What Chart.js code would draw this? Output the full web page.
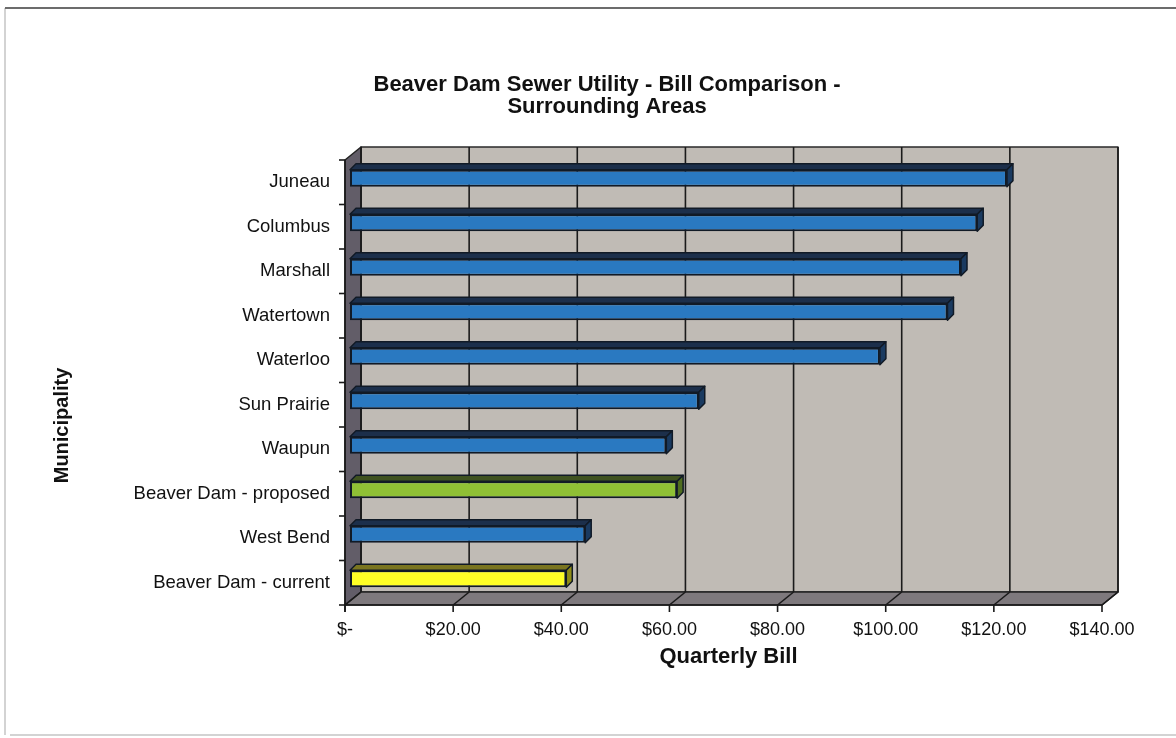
<!DOCTYPE html>
<html lang="en">
<head>
<meta charset="UTF-8">
<title>Beaver Dam Sewer Utility - Bill Comparison</title>
<script src="https://cdn.jsdelivr.net/npm/chart.js"></script>
<style>
  html, body { margin: 0; padding: 0; background: #fff; }
  #wrap { width: 1176px; height: 738px; }
</style>
</head>
<body>
<div id="wrap"><canvas id="billChart" width="1176" height="738"></canvas></div>
<script>
// values (top to bottom)
const municipalities = ['Juneau', 'Columbus', 'Marshall', 'Watertown', 'Waterloo',
  'Sun Prairie', 'Waupun', 'Beaver Dam - proposed', 'West Bend', 'Beaver Dam - current'];
const quarterlyBill = [121.5, 116, 113, 110.5, 98, 64.5, 58.5, 60.5, 43.5, 40];
const tickLabels = ['$-', '$20.00', '$40.00', '$60.00', '$80.00', '$100.00', '$120.00', '$140.00'];
const chartTitle = ['Beaver Dam Sewer Utility - Bill Comparison -', 'Surrounding Areas'];

// colours: front face, top face, end face
const BLUE = ['#2a79c1', '#1c2f4b', '#1a3a60'];
const GREEN = ['#8fc035', '#3f5220', '#4f6d1f'];
const YELLOW = ['#ffff26', '#7a7520', '#8f8c16'];
const barStyles = [BLUE, BLUE, BLUE, BLUE, BLUE, BLUE, BLUE, GREEN, BLUE, YELLOW];

// 3D offsets relative to the bar plane
const front = { x: -5, y: 4 };
const back = { x: 11, y: -9 };
const depth = { x: 6, y: -6 };

const FONT = '"Liberation Sans", Arial, sans-serif';

function poly(ctx, pts, fill, stroke, lw) {
  ctx.beginPath();
  ctx.moveTo(pts[0][0], pts[0][1]);
  for (let i = 1; i < pts.length; i++) ctx.lineTo(pts[i][0], pts[i][1]);
  ctx.closePath();
  if (fill) { ctx.fillStyle = fill; ctx.fill(); }
  if (stroke) { ctx.strokeStyle = stroke; ctx.lineWidth = lw; ctx.stroke(); }
}

function seg(ctx, x1, y1, x2, y2) {
  ctx.beginPath();
  ctx.moveTo(x1, y1);
  ctx.lineTo(x2, y2);
  ctx.stroke();
}

const fake3d = {
  id: 'fake3d',
  beforeDraw(chart) {
    const ctx = chart.ctx;
    const w = chart.width, h = chart.height;
    ctx.save();
    ctx.fillStyle = '#fff';
    ctx.fillRect(0, 0, w, h);
    // cadre de la feuille
    ctx.strokeStyle = '#c4c4c4';
    ctx.lineWidth = 1.5;
    seg(ctx, 5, 8, 5, h - 3);
    seg(ctx, 10, h - 3, w, h - 3);
    ctx.strokeStyle = '#6c6c6c';
    ctx.lineWidth = 2;
    seg(ctx, 5, 8, w, 8);
    ctx.restore();
  },
  beforeDatasetsDraw(chart) {
    const { ctx, chartArea: a, scales: { x } } = chart;
    const L = a.left, R = a.right, T = a.top, B = a.bottom;
    ctx.save();
    ctx.lineJoin = 'round';
    // back wall, left wall, floor
    poly(ctx, [[L + back.x, T + back.y], [R + back.x, T + back.y], [R + back.x, B + back.y], [L + back.x, B + back.y]], '#c0bbb5', '#2a2a2a', 1.5);
    poly(ctx, [[L + front.x, T + front.y], [L + back.x, T + back.y], [L + back.x, B + back.y], [L + front.x, B + front.y]], '#625d68', '#222', 1.5);
    poly(ctx, [[L + back.x, B + back.y], [R + back.x, B + back.y], [R + front.x, B + front.y], [L + front.x, B + front.y]], '#7e797d', '#222', 1.5);

    ctx.strokeStyle = '#1a1a1a';
    ctx.lineWidth = 1.6;
    x.ticks.forEach(t => {
      const px = x.getPixelForValue(t.value);
      seg(ctx, px + back.x, T + back.y, px + back.x, B + back.y);
      seg(ctx, px + back.x, B + back.y, px + front.x, B + front.y);
      seg(ctx, px + front.x, B + front.y, px + front.x, B + front.y + 7);
    });
    seg(ctx, L + front.x, B + front.y, R + front.x, B + front.y);

    // category ticks on the left wall
    const band = (B - T) / municipalities.length;
    for (let i = 0; i <= municipalities.length; i++) {
      const py = T + band * i + front.y;
      seg(ctx, L + front.x - 6, py, L + front.x, py);
    }
    seg(ctx, L + front.x, T + front.y, L + front.x, B + front.y + 7);
    ctx.restore();
  },
  afterDatasetsDraw(chart) {
    const ctx = chart.ctx;
    const meta = chart.getDatasetMeta(0);
    ctx.save();
    ctx.lineJoin = 'round';
    meta.data.forEach((bar, i) => {
      const p = bar.getProps(['x', 'y', 'base', 'height'], true);
      const top = p.y - p.height / 2, bot = p.y + p.height / 2;
      const st = barStyles[i];
      poly(ctx, [[p.base, top], [p.base + depth.x, top + depth.y], [p.x + depth.x, top + depth.y], [p.x, top]], st[1], '#111a26', 1.5);
      poly(ctx, [[p.x, top], [p.x + depth.x, top + depth.y], [p.x + depth.x, bot + depth.y], [p.x, bot]], st[2], '#111a26', 1.5);
    });
    ctx.restore();
  },
  afterDraw(chart) {
    const { ctx, chartArea: a } = chart;
    ctx.save();
    ctx.fillStyle = '#111';
    ctx.textAlign = 'center';
    ctx.textBaseline = 'middle';
    // titre du graphique
    ctx.font = 'bold 22px ' + FONT;
    chartTitle.forEach((line, i) => ctx.fillText(line, 607, a.top - 71 + i * 22));
    // titre de l'axe vertical
    ctx.translate(62, (a.top + a.bottom) / 2 + 47);
    ctx.rotate(-Math.PI / 2);
    ctx.font = 'bold 20px ' + FONT;
    ctx.fillText('Municipality', 0, 0);
    ctx.restore();
  }
};

Chart.defaults.font.family = FONT;
Chart.defaults.color = '#111';

new Chart(document.getElementById('billChart'), {
  type: 'bar',
  data: {
    labels: municipalities,
    datasets: [{
      label: 'Quarterly Bill',
      data: quarterlyBill,
      backgroundColor: barStyles.map(s => s[0]),
      borderColor: '#111a26',
      borderWidth: 2,
      borderSkipped: false,
      barPercentage: 0.38,
      categoryPercentage: 1
    }]
  },
  options: {
    indexAxis: 'y',
    responsive: false,
    animation: false,
    layout: { padding: { top: 156, right: 69, bottom: 57, left: 0 } },
    plugins: {
      legend: { display: false },
      tooltip: { enabled: false },
      title: { display: false }
    },
    scales: {
      x: {
        min: 0,
        max: 140,
        grid: { display: false, drawTicks: false },
        border: { display: false },
        ticks: {
          stepSize: 20,
          padding: 18,
          labelOffset: -5,
          font: { size: 18 },
          callback: v => tickLabels[Math.round(v / 20)]
        },
        title: {
          display: true,
          text: 'Quarterly Bill',
          font: { size: 22, weight: 'bold' },
          padding: { top: 0, bottom: 11 }
        },
        afterFit(scale) { scale.height = 80; }
      },
      y: {
        grid: { display: false, drawTicks: false },
        border: { display: false },
        ticks: { padding: 20, labelOffset: 4, font: { size: 18.5 } },
        afterFit(scale) { scale.width = 350; }
      }
    }
  },
  plugins: [fake3d]
});
</script>
</body>
</html>
